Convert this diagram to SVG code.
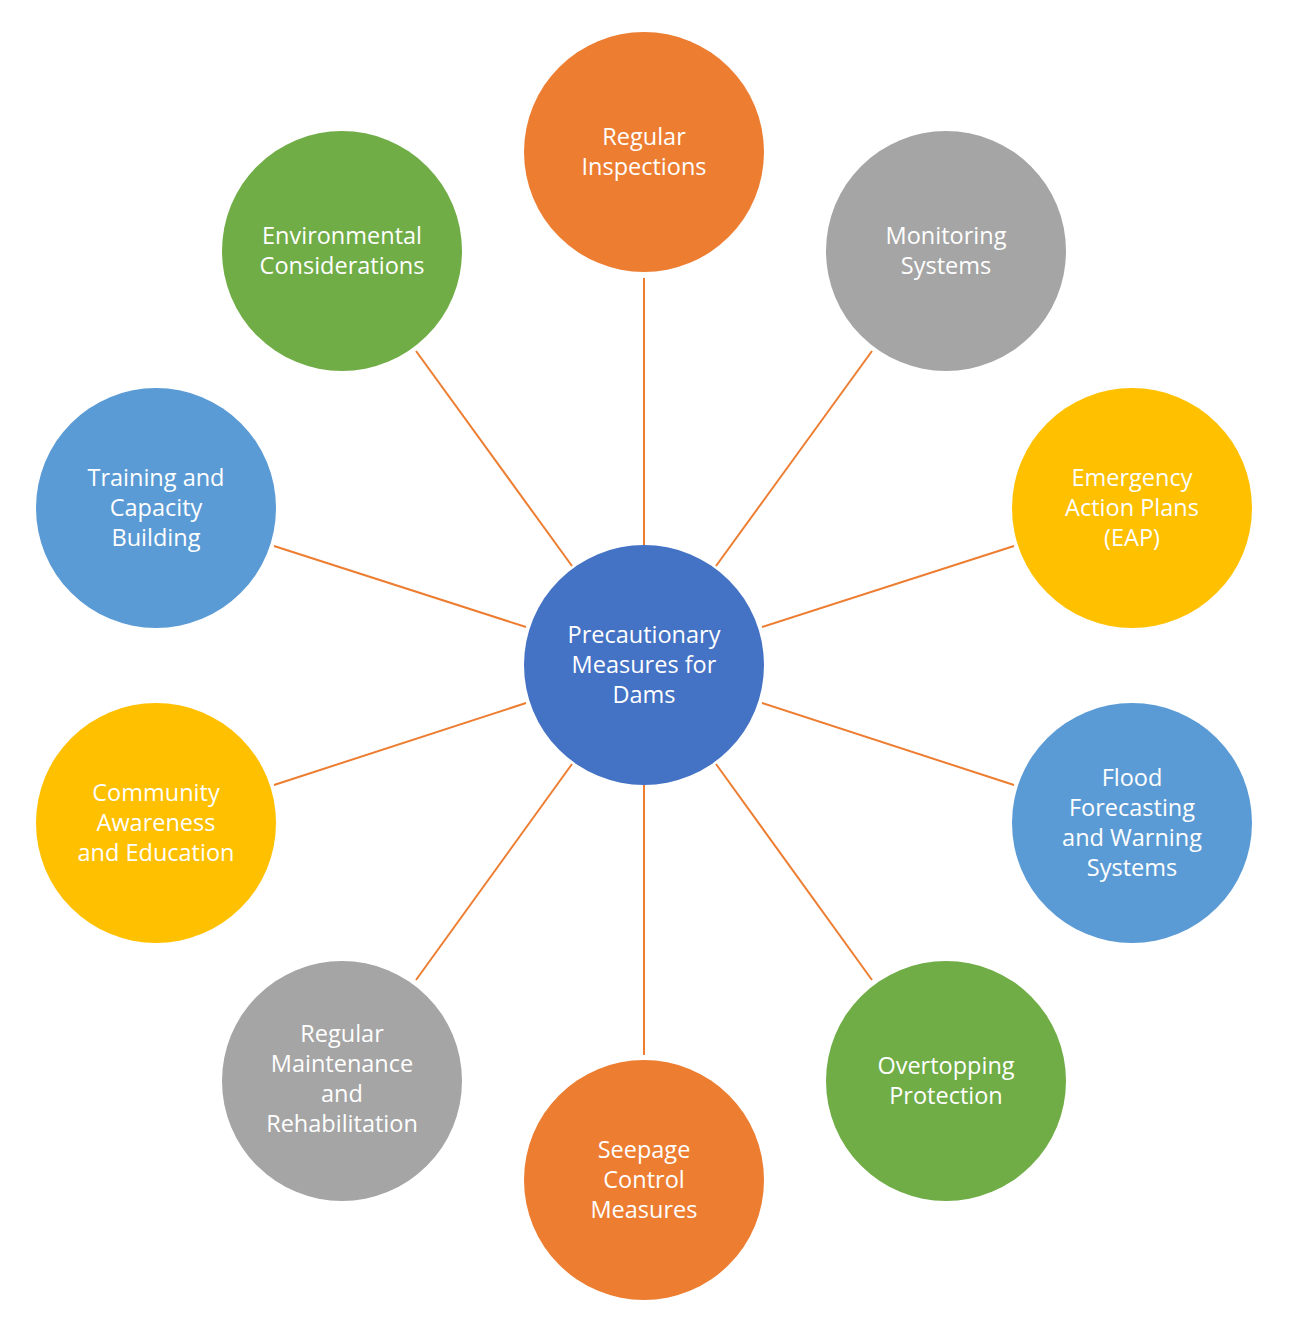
<svg xmlns="http://www.w3.org/2000/svg" width="1294" height="1328" viewBox="0 0 1294 1328">
<style>
.t{font-family:"Open Sans","Liberation Sans",sans-serif;font-size:23.5px;font-weight:500;fill:#ffffff;text-anchor:middle}
.c line{stroke:#ED7D31;stroke-width:2}
</style>
<rect width="1294" height="1328" fill="#ffffff"/>
<g id="connectors" class="c">
<line x1="644" y1="545" x2="644" y2="278"/>
<line x1="716" y1="566" x2="872" y2="351"/>
<line x1="762" y1="627" x2="1014" y2="546"/>
<line x1="762" y1="703" x2="1014" y2="785"/>
<line x1="716" y1="764" x2="872" y2="980"/>
<line x1="644" y1="785" x2="644" y2="1055"/>
<line x1="572" y1="764" x2="416" y2="980"/>
<line x1="526" y1="703" x2="274" y2="785"/>
<line x1="526" y1="627" x2="274" y2="546"/>
<line x1="572" y1="566" x2="416" y2="351"/>
</g>
<g id="center"><circle cx="644" cy="665" r="120" fill="#4472C4"/>
<text class="t" x="644" y="643">Precautionary</text><text class="t" x="644" y="673">Measures for</text><text class="t" x="644" y="703">Dams</text></g>
<g id="n1"><circle cx="644" cy="152" r="120" fill="#ED7D31"/>
<text class="t" x="644" y="145">Regular</text><text class="t" x="644" y="175">Inspections</text></g>
<g id="n2"><circle cx="946" cy="251" r="120" fill="#A5A5A5"/>
<text class="t" x="946" y="244">Monitoring</text><text class="t" x="946" y="274">Systems</text></g>
<g id="n3"><circle cx="1132" cy="508" r="120" fill="#FFC000"/>
<text class="t" x="1132" y="486">Emergency</text><text class="t" x="1132" y="516">Action Plans</text><text class="t" x="1132" y="546">(EAP)</text></g>
<g id="n4"><circle cx="1132" cy="823" r="120" fill="#5B9BD5"/>
<text class="t" x="1132" y="786">Flood</text><text class="t" x="1132" y="816">Forecasting</text><text class="t" x="1132" y="846">and Warning</text><text class="t" x="1132" y="876">Systems</text></g>
<g id="n5"><circle cx="946" cy="1081" r="120" fill="#70AD47"/>
<text class="t" x="946" y="1074">Overtopping</text><text class="t" x="946" y="1104">Protection</text></g>
<g id="n6"><circle cx="644" cy="1180" r="120" fill="#ED7D31"/>
<text class="t" x="644" y="1158">Seepage</text><text class="t" x="644" y="1188">Control</text><text class="t" x="644" y="1218">Measures</text></g>
<g id="n7"><circle cx="342" cy="1081" r="120" fill="#A5A5A5"/>
<text class="t" x="342" y="1042">Regular</text><text class="t" x="342" y="1072">Maintenance</text><text class="t" x="342" y="1102">and</text><text class="t" x="342" y="1132">Rehabilitation</text></g>
<g id="n8"><circle cx="156" cy="823" r="120" fill="#FFC000"/>
<text class="t" x="156" y="801">Community</text><text class="t" x="156" y="831">Awareness</text><text class="t" x="156" y="861">and Education</text></g>
<g id="n9"><circle cx="156" cy="508" r="120" fill="#5B9BD5"/>
<text class="t" x="156" y="486">Training and</text><text class="t" x="156" y="516">Capacity</text><text class="t" x="156" y="546">Building</text></g>
<g id="n10"><circle cx="342" cy="251" r="120" fill="#70AD47"/>
<text class="t" x="342" y="244">Environmental</text><text class="t" x="342" y="274">Considerations</text></g>
</svg>
